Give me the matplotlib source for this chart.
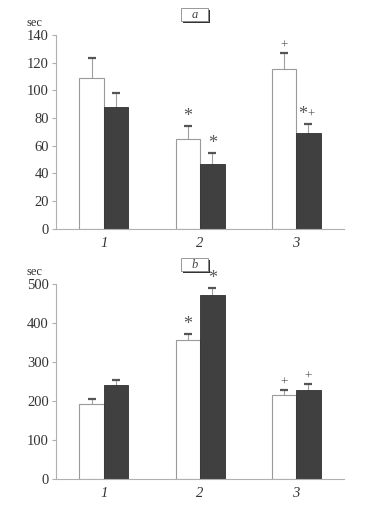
import matplotlib
import numpy as np

matplotlib.use("Agg")

from matplotlib import pyplot as plt
from matplotlib.patches import FancyBboxPatch

groups = ["1", "2", "3"]

# panel a
a_white = [109, 65, 115]
a_white_err = [14, 9.5, 12]
a_dark = [88, 47, 69]
a_dark_err = [10, 8, 7]
a_white_marks = ["", "*", "+"]
a_dark_marks = ["", "*", "*+"]
a_ticks = [0, 20, 40, 60, 80, 100, 120, 140]

# panel b
b_white = [191, 357, 214]
b_white_err = [14, 16, 15]
b_dark = [242, 473, 229]
b_dark_err = [12, 18, 15]
b_white_marks = ["", "*", "+"]
b_dark_marks = ["", "*", "+"]
b_ticks = [0, 100, 200, 300, 400, 500]

plt.rcParams["font.family"] = ["Liberation Serif", "DejaVu Serif"]

SPINE = "#b0b0b0"
DARK = "#404040"


def put_mark(ax, xi, y, mark):
    # asterisks are drawn bigger than the plus signs, as in the print
    if mark == "*+":
        ax.text(xi - 0.01, y, "*", ha="right", va="bottom", fontsize=13, color="#555555")
        ax.text(xi - 0.01, y + 1.5, "+", ha="left", va="bottom", fontsize=9, color="#555555")
    elif mark == "*":
        ax.text(xi, y, "*", ha="center", va="bottom", fontsize=13, color="#555555")
    else:
        ax.text(xi, y, mark, ha="center", va="bottom", fontsize=9.5, color="#555555")


def draw_panel(ax, white, white_err, dark, dark_err, wmarks, dmarks, ticks, ymax):
    x = np.arange(1, len(groups) + 1)
    w = 0.255
    ax.bar(x - w / 2, white, w, color="white", edgecolor="#9a9a9a", linewidth=0.8, zorder=2)
    ax.bar(x + w / 2, dark, w, color=DARK, edgecolor="#303030", linewidth=0.6, zorder=2)
    for xs, vals, errs, marks in [
        (x - w / 2, white, white_err, wmarks),
        (x + w / 2, dark, dark_err, dmarks),
    ]:
        for xi, v, e, m in zip(xs, vals, errs, marks):
            ax.plot([xi, xi], [v, v + e], color="#a0a0a0", linewidth=0.8, zorder=1)
            ax.plot([xi - 0.04, xi + 0.04], [v + e, v + e], color="#555555",
                    linewidth=1.6, solid_capstyle="butt", zorder=3)
            if m:
                put_mark(ax, xi, v + e + ymax * 0.005, m)
    ax.set_xlim(0.5, 3.5)
    ax.set_ylim(0, ymax)
    ax.set_yticks(ticks)
    ax.set_xticks(x)
    ax.set_xticklabels(groups, fontstyle="italic")
    ax.tick_params(axis="x", length=0, pad=6, labelsize=10.5, colors="#333333")
    ax.tick_params(axis="y", length=3, width=0.8, color=SPINE, pad=2,
                   labelsize=10.5, labelcolor="#333333")
    for side in ["top", "right"]:
        ax.spines[side].set_visible(False)
    for side in ["left", "bottom"]:
        ax.spines[side].set_color(SPINE)
        ax.spines[side].set_linewidth(0.8)
    ax.text(-0.045, 1.03, "sec", transform=ax.transAxes, ha="right", va="bottom",
            fontsize=9, color="#333333")


fig = plt.figure(figsize=(3.68, 5.12), dpi=100)
ax_a = fig.add_axes([0.152, 0.553, 0.783, 0.379])
ax_b = fig.add_axes([0.152, 0.065, 0.783, 0.380])

draw_panel(ax_a, a_white, a_white_err, a_dark, a_dark_err, a_white_marks, a_dark_marks,
           a_ticks, 140)
draw_panel(ax_b, b_white, b_white_err, b_dark, b_dark_err, b_white_marks, b_dark_marks,
           b_ticks, 500)

# boxed panel letters with a drop shadow
for letter, y0 in [("a", 1 - 21 / 512), ("b", 1 - 271 / 512)]:
    bx, bw, bh = 181 / 368, 27 / 368, 13 / 512
    shadow = FancyBboxPatch((bx + 2 / 368, y0 - 2 / 512), bw, bh, boxstyle="square,pad=0",
                            transform=fig.transFigure, facecolor="#333333",
                            edgecolor="none")
    box = FancyBboxPatch((bx, y0), bw, bh, boxstyle="square,pad=0",
                         transform=fig.transFigure, facecolor="white",
                         edgecolor="#888888", linewidth=0.6)
    fig.patches.extend([shadow, box])
    fig.text(bx + bw / 2, y0 + bh / 2, letter, ha="center", va="center",
             fontstyle="italic", fontsize=9, color="#444444")

fig.savefig("out.png", dpi=100)
